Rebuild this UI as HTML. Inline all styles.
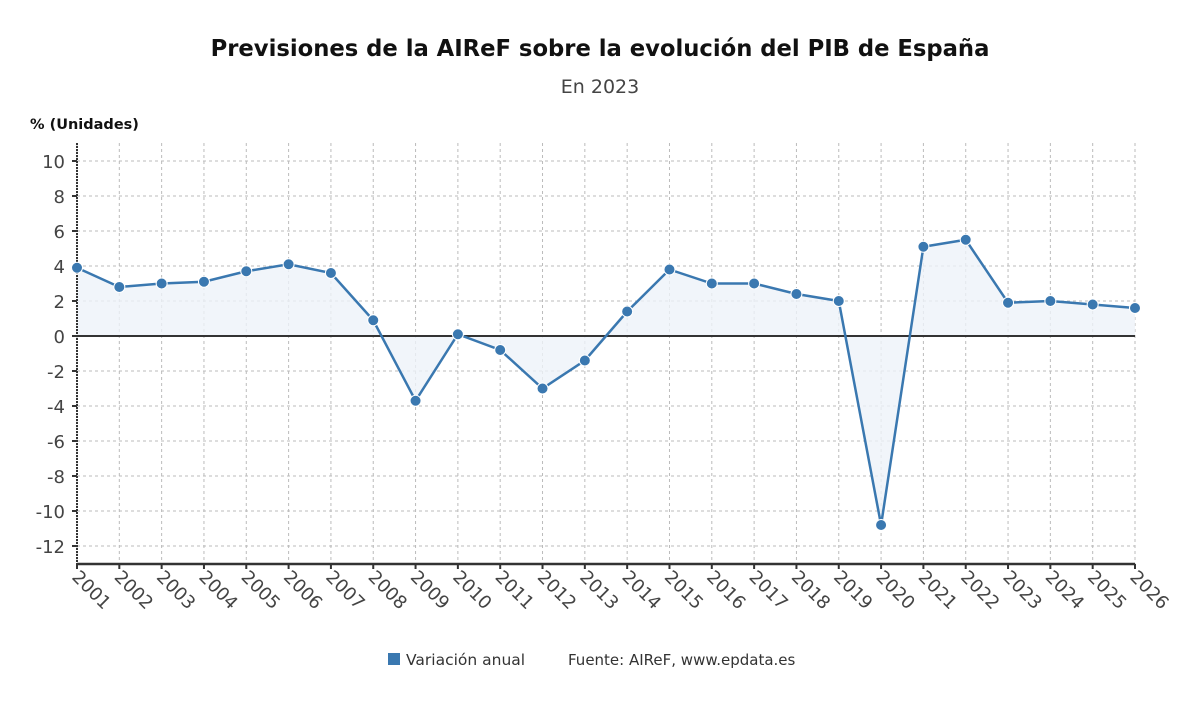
<!DOCTYPE html>
<html><head><meta charset="utf-8"><style>
body{margin:0;background:#fff;font-family:"DejaVu Sans","Liberation Sans",sans-serif;}
</style></head><body>
<svg width="1200" height="705" xmlns="http://www.w3.org/2000/svg">
<text x="600" y="56" text-anchor="middle" font-size="22.7" font-weight="bold" fill="#111">Previsiones de la AIReF sobre la evolución del PIB de España</text>
<text x="600" y="93" text-anchor="middle" font-size="19" fill="#444">En 2023</text>
<text x="30" y="129" font-size="14.5" font-weight="600" fill="#111">% (Unidades)</text>
<g id="grid"></g><g id="area"></g><g id="axes"></g><g id="line"></g>
<g>
<rect x="388" y="653" width="12" height="12" fill="#3a78b0"/>
<text x="406" y="665" font-size="15.5" fill="#333">Variación anual</text>
<text x="568" y="665" font-size="15" fill="#333">Fuente: AIReF, www.epdata.es</text>
</g>
</svg>
<script>
const years=[2001,2002,2003,2004,2005,2006,2007,2008,2009,2010,2011,2012,2013,2014,2015,2016,2017,2018,2019,2020,2021,2022,2023,2024,2025,2026];
const values=[3.9,2.8,3.0,3.1,3.7,4.1,3.6,0.9,-3.7,0.1,-0.8,-3.0,-1.4,1.4,3.8,3.0,3.0,2.4,2.0,-10.8,5.1,5.5,1.9,2.0,1.8,1.6];
const yTicks=[10,8,6,4,2,0,-2,-4,-6,-8,-10,-12];
const NS="http://www.w3.org/2000/svg";
const x0=77,x1=1135,yTop=143,yBot=564;
const xs=i=>x0+(x1-x0)*i/(years.length-1);
const ys=v=>336-v*17.5;
function mk(tag,at,parent){const e=document.createElementNS(NS,tag);for(const k in at)e.setAttribute(k,at[k]);document.getElementById(parent).appendChild(e);return e;}
yTicks.forEach(t=>{
 const g=mk('line',{x1:x0,x2:x1,y1:ys(t),y2:ys(t),stroke:'#bbb','stroke-dasharray':'3,3'},'grid');
 
 
 const tk=mk('line',{x1:x0-5,x2:x0,y1:ys(t),y2:ys(t),stroke:'#333','stroke-width':2},'axes');
 
 
 const l=mk('text',{x:x0-12,y:ys(t)+7,'text-anchor':'end','font-size':18,fill:'#444'},'axes');
 l.textContent=t;
 
 
});
years.forEach((yr,i)=>{
 const g=mk('line',{x1:xs(i),x2:xs(i),y1:yTop,y2:yBot,stroke:'#bbb','stroke-dasharray':'3,3'},'grid');
 
 
 const tk=mk('line',{x1:xs(i),x2:xs(i),y1:yBot,y2:yBot+5,stroke:'#333','stroke-width':2},'axes');
 
 
 const l=mk('text',{x:xs(i)-6,y:yBot+14,'font-size':18,fill:'#444',transform:`rotate(45 ${xs(i)-6} ${yBot+14})`},'axes');
 l.textContent=yr;
 
 
});
let d='M'+xs(0)+','+ys(0);
values.forEach((v,i)=>d+=' L'+xs(i)+','+ys(v));
d+=' L'+xs(values.length-1)+','+ys(0)+' Z';
const a=mk('path',{d:d,fill:'#eef3f9','fill-opacity':0.8},'area');


const yax=mk('line',{x1:x0,x2:x0,y1:yTop,y2:yBot,stroke:'#333','stroke-width':2,'stroke-dasharray':'2,1'},'axes');


const xax=mk('line',{x1:x0,x2:x1,y1:yBot,y2:yBot,stroke:'#333','stroke-width':2.5},'axes');


const zl=mk('line',{x1:x0,x2:x1,y1:ys(0),y2:ys(0),stroke:'#333','stroke-width':2},'axes');


const pts=values.map((v,i)=>xs(i)+','+ys(v)).join(' ');
const pl=mk('polyline',{points:pts,fill:'none',stroke:'#3a78b0','stroke-width':2.5},'line');


values.forEach((v,i)=>{
 const c=mk('circle',{cx:xs(i),cy:ys(v),r:5.5,fill:'#3a78b0',stroke:'#fff','stroke-width':1},'line');
 
 
});
</script>
</body></html>
